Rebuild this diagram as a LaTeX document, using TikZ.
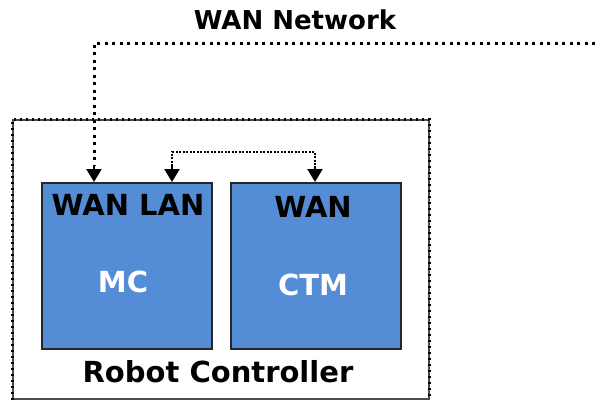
\documentclass[tikz,border=0pt]{standalone}
\usepackage{fontspec}
\setmainfont{DejaVu Sans}
\usetikzlibrary{positioning, arrows.meta}

\definecolor{unitblue}{RGB}{84,141,213}

\begin{document}
\begin{tikzpicture}[x=1pt, y=-1pt,
    unit/.style={draw=black!85, fill=unitblue, rectangle, line width=2pt, minimum width=170pt, minimum height=166pt, inner sep=0pt},
    lbl/.style={font=\fontsize{29}{32}\selectfont\bfseries, inner sep=0pt},
    tip/.style={-{Triangle[length=13pt, width=15pt]}},
    dots/.style={line width=3pt, dash pattern=on 3pt off 4.5pt}]
    \useasboundingbox (0,0) rectangle (595,400);

    % Controller frame
    \node[draw=black!70, rectangle, line width=1.2pt, minimum width=416pt, minimum height=279pt, inner sep=0pt] (frame) at (221,259.5) {};
    \draw[line width=2.5pt, dash pattern=on 2pt off 4pt] (frame.south west) -- (frame.north west) -- (frame.north east) -- (frame.south east);

    % Units
    \node[unit] (mc) at (127,266) {};
    \node[unit, right=17pt of mc] (ctm) {};

    % Texts
    \node[inner sep=0pt, font=\fontsize{26}{28}\selectfont\bfseries] (title) at (295,20) {WAN Network};
    \node[lbl] (mcports) at (128,205) {WAN LAN};
    \node[lbl] (ctmport) at (313,207) {WAN};
    \node[lbl, text=white] (mcname) at (123,282) {MC};
    \node[lbl, text=white] (ctmname) at (313,285) {CTM};
    \node[lbl] (ctrlname) at (218,372) {Robot Controller};

    % Ports
    \coordinate (wanin) at ([xshift=53pt]mc.north west);
    \coordinate (lanin) at ([xshift=131pt]mc.north west);
    \coordinate (ctmin) at ([xshift=85pt]ctm.north west);
    \coordinate (wanend) at (595,43);

    % Connections
    \draw[dots] (wanend) -| ([yshift=16pt]wanin);
    \draw[tip, line width=2pt] ([yshift=16pt]wanin) -- (wanin);
    \draw[line width=2pt, dash pattern=on 2pt off 1.5pt] ([yshift=16pt]lanin) -- ++(0,-14) -| ([yshift=16pt]ctmin);
    \draw[tip, line width=2pt] ([yshift=16pt]lanin) -- (lanin);
    \draw[tip, line width=2pt] ([yshift=16pt]ctmin) -- (ctmin);
\end{tikzpicture}
\end{document}
